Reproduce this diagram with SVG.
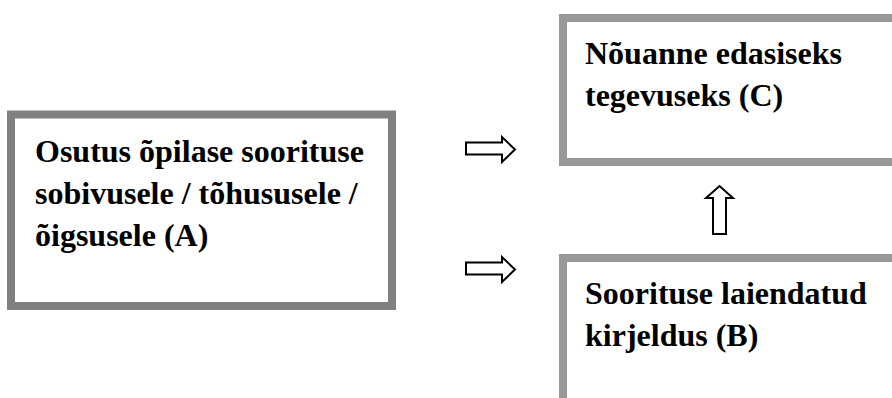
<svg xmlns="http://www.w3.org/2000/svg" width="892" height="398" viewBox="0 0 892 398">
<style>
text{font-family:"Liberation Serif","DejaVu Serif","Times New Roman",Times,serif;font-weight:700;font-size:32px;fill:#000}
.arr{fill:#fff;stroke:#000;stroke-width:2;stroke-linejoin:miter}
</style>
<rect width="892" height="398" fill="#fff"/>
<g id="nodeA">
<rect x="11" y="114.5" width="381" height="191.5" fill="#fff" stroke="#808080" stroke-width="8"/>
<text x="35" y="162" font-family="Liberation Serif, serif">Osutus õpilase soorituse</text>
<text x="35" y="204" font-family="Liberation Serif, serif">sobivusele / tõhususele /</text>
<text x="35" y="246" font-family="Liberation Serif, serif">õigsusele (A)</text>
</g>
<g id="nodeC">
<rect x="563" y="18" width="340" height="144" fill="#fff" stroke="#999" stroke-width="8"/>
<text x="585" y="64" font-family="Liberation Serif, serif">Nõuanne edasiseks</text>
<text x="585" y="106" font-family="Liberation Serif, serif">tegevuseks (C)</text>
</g>
<g id="nodeB">
<rect x="563" y="258" width="340" height="160" fill="#fff" stroke="#999" stroke-width="8"/>
<text x="585" y="304" font-family="Liberation Serif, serif">Soorituse laiendatud</text>
<text x="585" y="346" font-family="Liberation Serif, serif">kirjeldus (B)</text>
</g>
<g id="connectors">
<polygon class="arr" points="466,142.5 502,142.5 502,137 515,149.5 502,162 502,154.5 466,154.5"/>
<polygon class="arr" points="466,262.5 502,262.5 502,257 515,269.5 502,282 502,274.5 466,274.5"/>
<polygon class="arr" points="713,234 713,198 706,198 719.5,186 733,198 726,198 726,234"/>
</g>
</svg>
